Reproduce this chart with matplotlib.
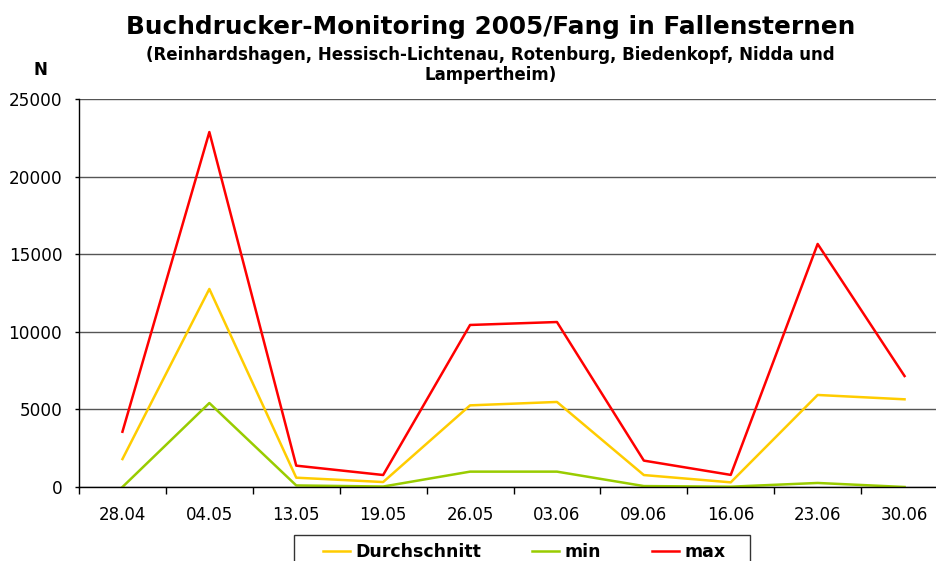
import matplotlib
matplotlib.use("Agg")
import matplotlib.pyplot as plt
from matplotlib.ticker import FixedLocator
from matplotlib.patches import Rectangle

plt.rcParams['font.family'] = ['DejaVu Sans']

dates = ["28.04", "04.05", "13.05", "19.05", "26.05", "03.06", "09.06", "16.06", "23.06", "30.06"]
durchschnitt = [1800, 12760, 600, 320, 5260, 5480, 770, 300, 5930, 5650]
min_vals = [0, 5410, 100, 30, 990, 990, 60, 20, 260, 0]
max_vals = [3560, 22870, 1375, 773, 10440, 10630, 1700, 780, 15660, 7150]
yticks = [0, 5000, 10000, 15000, 20000, 25000]

W, H = 936, 561
fig = plt.figure(figsize=(W/100, H/100), dpi=100)
ax = fig.add_axes([79/W, 1-487/H, 869/W, 388/H])

x = list(range(len(dates)))
ax.plot(x, durchschnitt, color="#FFCC00", lw=1.8, label="Durchschnitt")
ax.plot(x, min_vals, color="#99CC00", lw=1.8, label="min")
ax.plot(x, max_vals, color="#FF0000", lw=1.8, label="max")

ax.set_xlim(-0.5, len(dates) - 0.5)
ax.set_ylim(0, 25000)
ax.set_yticks(yticks)
ax.set_yticklabels([str(v) for v in yticks], fontsize=12.2)
ax.yaxis.grid(True, color="#555555", lw=1)
ax.set_axisbelow(True)

ax.set_xticks(x)
ax.set_xticklabels(dates, fontsize=12)
ax.xaxis.set_minor_locator(FixedLocator([i - 0.5 for i in range(len(dates) + 1)]))
ax.tick_params(axis='x', which='major', length=0, pad=14)
ax.tick_params(axis='x', which='minor', length=5, direction='out', width=1)
ax.tick_params(axis='y', length=3, direction='out', width=1, pad=9)

for s in ['top', 'right']:
    ax.spines[s].set_visible(False)
for s in ['left', 'bottom']:
    ax.spines[s].set_color('black')
    ax.spines[s].set_linewidth(1)

fig.text(491/W, 1-34.3/H, "Buchdrucker-Monitoring 2005/Fang in Fallensternen",
         ha='center', va='baseline', fontsize=17.8, fontweight='bold')
fig.text(490/W, 1-60/H, "(Reinhardshagen, Hessisch-Lichtenau, Rotenburg, Biedenkopf, Nidda und",
         ha='center', va='baseline', fontsize=11.95, fontweight='bold')
fig.text(491/W, 1-80/H, "Lampertheim)",
         ha='center', va='baseline', fontsize=11.95, fontweight='bold')
fig.text(40/W, 1-70/H, "N", ha='center', va='center', fontsize=12, fontweight='bold')

# legend frame
fig.patches.append(Rectangle((294/W, 1-566/H), (750-294)/W, 31/H, transform=fig.transFigure,
                             facecolor='white', edgecolor='#333333', lw=1, zorder=1))

fs = 12.5
leg = fig.legend(loc='upper left', bbox_to_anchor=(318/W, 1-538/H), ncol=3,
                 prop={'weight': 'bold', 'size': fs}, frameon=False,
                 handlelength=1.55, handletextpad=0.3, columnspacing=2.95,
                 borderpad=0.3, borderaxespad=0)
leg.set_zorder(2)

fig.savefig("out.png", dpi=100)
